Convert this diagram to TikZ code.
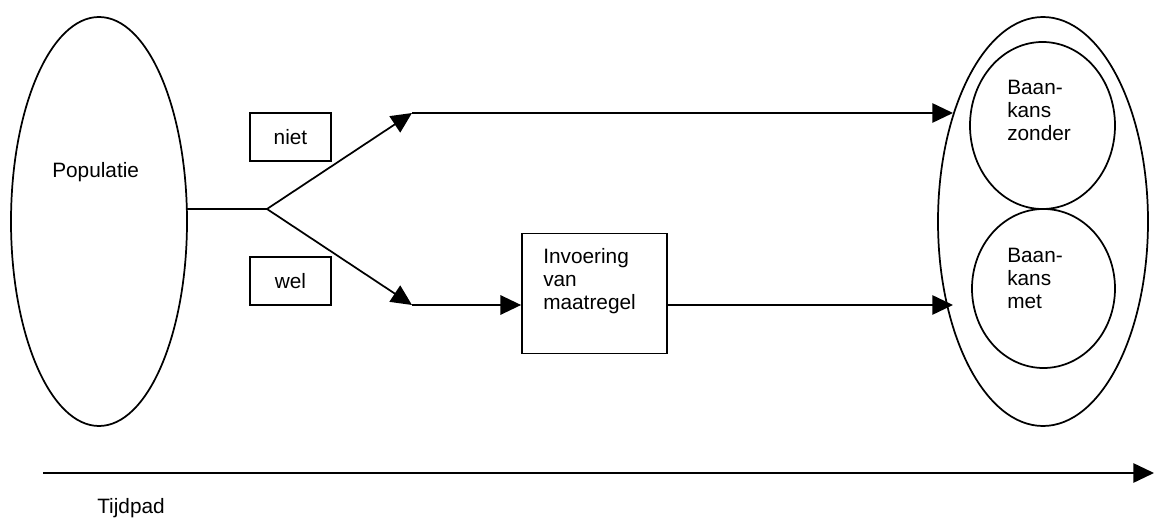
\documentclass[tikz,border=0pt]{standalone}
\usepackage{fontspec}
\setmainfont{Liberation Sans}
\usetikzlibrary{shapes.geometric,arrows.meta}
\begin{document}
\begin{tikzpicture}[x=0.75pt,y=-0.75pt,
  every node/.style={font=\fontsize{15.6}{17.4}\selectfont},
  line/.style={line width=1.3pt,draw=black},
  arr/.style={line, -{Triangle[length=15.5pt,width=14.5pt]}},
  oval/.style={ellipse,line,inner sep=0pt},
  box/.style={rectangle,line,inner sep=0pt},
  txt/.style={inner sep=0pt,align=left}]
\useasboundingbox (0,0) rectangle (1154,520);
% shapes
\node[oval,minimum width=132pt,minimum height=306.75pt] (pop) at (99,221.5) {};
\node[oval,minimum width=157.5pt,minimum height=306.75pt] (res) at (1043,221.5) {};
\node[oval,minimum width=108.75pt,minimum height=125.25pt] (zonder) at (1042.5,125.5) {};
\node[oval,minimum width=107.25pt,minimum height=119.25pt] (met) at (1043.5,288.5) {};
\node[box,minimum width=60.75pt,minimum height=36pt] (niet) at (290.5,137) {niet};
\node[box,minimum width=60.75pt,minimum height=36pt] (wel) at (290.5,281) {wel};
\node[box,minimum width=108.75pt,minimum height=90pt] (maat) at (594.5,293.5) {};
% texts
\node[txt,anchor=base west] (poptxt) at (52,178) {Populatie};
\node[txt,anchor=north west] (zondertxt) at (1007,80) {Baan-\\kans\\zonder};
\node[txt,anchor=north west] (mettxt) at (1007,248) {Baan-\\kans\\met};
\node[txt,anchor=north west] (maattxt) at (543,248) {Invoering\\van\\maatregel};
\node[txt,anchor=base west] (tijd) at (97,513) {Tijdpad};
% coordinates
\coordinate (s) at (187,209);
\coordinate (b) at (267,209);
\coordinate (u1) at (412,113);
\coordinate (l1) at (412,305);
\coordinate (u2) at (953,113);
\coordinate (l2) at (953,305);
\coordinate (t0) at (43,473);
\coordinate (t1) at (1154,473);
% connectors
\draw[line] (s) -- (b);
\draw[arr] (b) -- (u1);
\draw[arr] (b) -- (l1);
\draw[arr] (u1) -- (u2);
\draw[arr] (l1) -- (maat.west |- l1);
\draw[arr] (maat.east |- l1) -- (l2);
\draw[arr] (t0) -- (t1);
\end{tikzpicture}
\end{document}
